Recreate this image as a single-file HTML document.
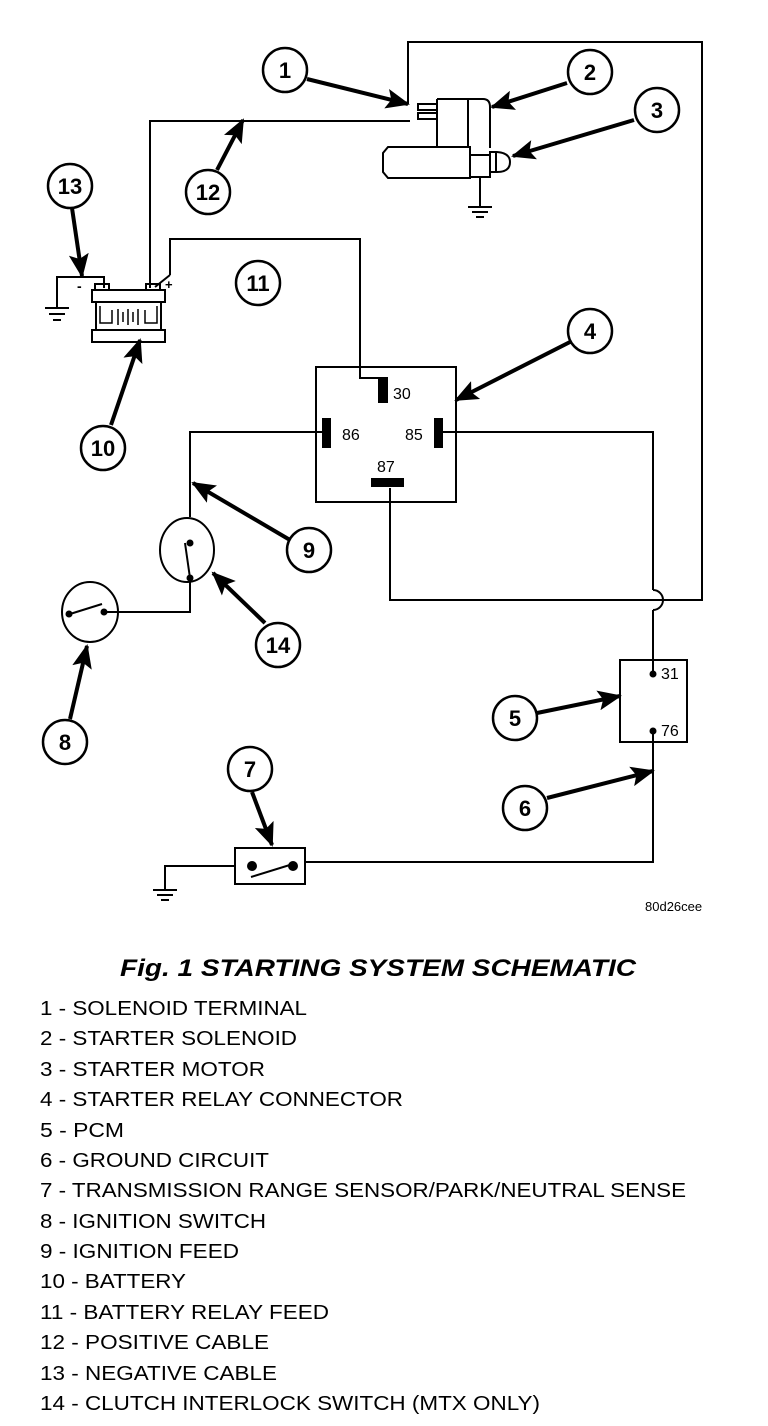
<!DOCTYPE html>
<html><head><meta charset="utf-8"><style>
html,body{margin:0;padding:0;background:#fff}
svg{display:block}
text{font-family:"Liberation Sans",sans-serif;fill:#000}
</style></head><body>
<svg width="768" height="1426" viewBox="0 0 768 1426" xmlns="http://www.w3.org/2000/svg">
<defs>
<marker id="ah" markerWidth="6" markerHeight="5" refX="5.5" refY="2.5" orient="auto" markerUnits="strokeWidth">
<path d="M0,0 L6,2.5 L0,5 L1.2,2.5 z" fill="#000"/>
</marker>
</defs>
<g fill="none" stroke="#000" stroke-width="2">
<polyline points="408,104 408,42 702,42 702,600 390,600 390,488"/>
<polyline points="440,432 653,432 653,590"/>
<path d="M653,590 A10,10 0 0 1 653,610"/>
<polyline points="653,610 653,672"/>
<rect x="620" y="660" width="67" height="82"/>
<polyline points="653,730 653,862 305,862"/>
<rect x="235" y="848" width="70" height="36"/>
<line x1="251" y1="877" x2="293" y2="864"/>
<polyline points="235,866 165,866 165,890"/>
<line x1="153" y1="890" x2="177" y2="890"/>
<line x1="157" y1="895" x2="173" y2="895"/>
<line x1="161" y1="900" x2="169" y2="900"/>
<rect x="316" y="367" width="140" height="135"/>
<polyline points="170,275 170,239 360,239 360,378 380,378"/>
<polyline points="325,432 190,432 190,517"/>
<ellipse cx="187" cy="550" rx="27" ry="32"/>
<line x1="185" y1="543" x2="190" y2="578"/>
<polyline points="190,582 190,612 105,612"/>
<ellipse cx="90" cy="612" rx="28" ry="30"/>
<line x1="70" y1="614" x2="102" y2="604"/>
<polyline points="150,288 150,121 410,121"/>
<polyline points="104,288 104,277 57,277 57,308"/>
<line x1="45" y1="308" x2="69" y2="308"/>
<line x1="49" y1="314" x2="65" y2="314"/>
<line x1="53" y1="320" x2="61" y2="320"/>
<line x1="155" y1="287" x2="170" y2="275"/>
<rect x="92" y="290" width="73" height="12"/>
<rect x="96" y="302" width="65" height="28"/>
<rect x="92" y="330" width="73" height="12"/>
<rect x="95" y="284" width="14" height="6"/>
<rect x="146" y="284" width="14" height="6"/>
<polyline points="100,306 100,323 112,323 112,310" stroke-width="1.5"/>
<polyline points="157,306 157,323 145,323 145,310" stroke-width="1.5"/>
<line x1="118" y1="309" x2="118" y2="325" stroke-width="1.5"/>
<line x1="123" y1="312" x2="123" y2="322" stroke-width="1.5"/>
<line x1="128" y1="309" x2="128" y2="325" stroke-width="1.5"/>
<line x1="133" y1="312" x2="133" y2="322" stroke-width="1.5"/>
<line x1="138" y1="309" x2="138" y2="325" stroke-width="1.5"/>
<path d="M437,99 L483,99 Q490,99 490,107 L490,148"/>
<line x1="437" y1="99" x2="437" y2="147"/>
<line x1="468" y1="99" x2="468" y2="147"/>
<rect x="418" y="104" width="19" height="6"/>
<rect x="418" y="113" width="19" height="6"/>
<path d="M388,147 L470,147 L470,178 L388,178 L383,172 L383,153 z"/>
<rect x="470" y="155" width="20" height="22"/>
<path d="M490,152 L497,152 Q510,153 510,162 Q510,172 497,172 L490,172 z"/>
<line x1="496" y1="152" x2="496" y2="172"/>
<line x1="480" y1="178" x2="480" y2="207"/>
<line x1="468" y1="207" x2="492" y2="207"/>
<line x1="472" y1="212" x2="488" y2="212"/>
<line x1="476" y1="217" x2="484" y2="217"/>
</g>
<g fill="#000">
<rect x="378" y="377" width="10" height="26"/>
<rect x="322" y="418" width="9" height="30"/>
<rect x="434" y="418" width="9" height="30"/>
<rect x="371" y="478" width="33" height="9"/>
<circle cx="653" cy="674" r="3.5"/>
<circle cx="653" cy="731" r="3.5"/>
<circle cx="252" cy="866" r="5"/>
<circle cx="293" cy="866" r="5"/>
<circle cx="190" cy="543" r="3.5"/>
<circle cx="190" cy="578" r="3.5"/>
<circle cx="69" cy="614" r="3.5"/>
<circle cx="104" cy="612" r="3.5"/>
</g>
<g font-size="16">
<text x="393" y="399">30</text>
<text x="342" y="440">86</text>
<text x="405" y="440">85</text>
<text x="377" y="472">87</text>
<text x="661" y="679">31</text>
<text x="661" y="736">76</text>
</g>
<text x="77" y="291" font-size="14" font-weight="bold">-</text>
<text x="165" y="289" font-size="13" font-weight="bold">+</text>
<text x="645" y="911" font-size="13">80d26cee</text>
<g stroke="#000" stroke-width="4" fill="none" marker-end="url(#ah)">
<line x1="307" y1="79" x2="408" y2="104"/>
<line x1="567" y1="83" x2="492" y2="107"/>
<line x1="634" y1="120" x2="513" y2="156"/>
<line x1="72" y1="208" x2="82" y2="276"/>
<line x1="217" y1="170" x2="243" y2="120"/>
<line x1="111" y1="425" x2="140" y2="340"/>
<line x1="570" y1="342" x2="456" y2="400"/>
<line x1="290" y1="540" x2="193" y2="483"/>
<line x1="265" y1="623" x2="213" y2="573"/>
<line x1="70" y1="719" x2="87" y2="646"/>
<line x1="252" y1="792" x2="272" y2="845"/>
<line x1="537" y1="713" x2="620" y2="696"/>
<line x1="547" y1="798" x2="653" y2="771"/>
</g>
<g stroke="#000" stroke-width="2.5" fill="#fff">
<ellipse cx="285" cy="70" rx="22" ry="22"/>
<ellipse cx="590" cy="72" rx="22" ry="22"/>
<ellipse cx="657" cy="110" rx="22" ry="22"/>
<ellipse cx="70" cy="186" rx="22" ry="22"/>
<ellipse cx="208" cy="192" rx="22" ry="22"/>
<ellipse cx="258" cy="283" rx="22" ry="22"/>
<ellipse cx="590" cy="331" rx="22" ry="22"/>
<ellipse cx="103" cy="448" rx="22" ry="22"/>
<ellipse cx="309" cy="550" rx="22" ry="22"/>
<ellipse cx="278" cy="645" rx="22" ry="22"/>
<ellipse cx="65" cy="742" rx="22" ry="22"/>
<ellipse cx="250" cy="769" rx="22" ry="22"/>
<ellipse cx="515" cy="718" rx="22" ry="22"/>
<ellipse cx="525" cy="808" rx="22" ry="22"/>
</g>
<g font-size="22" font-weight="bold" text-anchor="middle">
<text x="285" y="78">1</text>
<text x="590" y="80">2</text>
<text x="657" y="118">3</text>
<text x="70" y="194">13</text>
<text x="208" y="200">12</text>
<text x="258" y="291">11</text>
<text x="590" y="339">4</text>
<text x="103" y="456">10</text>
<text x="309" y="558">9</text>
<text x="278" y="653">14</text>
<text x="65" y="750">8</text>
<text x="250" y="777">7</text>
<text x="515" y="726">5</text>
<text x="525" y="816">6</text>
</g>
<text x="120" y="976" font-size="24" font-weight="bold" font-style="italic" textLength="516" lengthAdjust="spacingAndGlyphs">Fig. 1 STARTING SYSTEM SCHEMATIC</text>
<g font-size="20">
<text x="40" y="1015" textLength="267" lengthAdjust="spacingAndGlyphs">1 - SOLENOID TERMINAL</text>
<text x="40" y="1045" textLength="257" lengthAdjust="spacingAndGlyphs">2 - STARTER SOLENOID</text>
<text x="40" y="1076" textLength="225" lengthAdjust="spacingAndGlyphs">3 - STARTER MOTOR</text>
<text x="40" y="1106" textLength="363" lengthAdjust="spacingAndGlyphs">4 - STARTER RELAY CONNECTOR</text>
<text x="40" y="1137" textLength="84" lengthAdjust="spacingAndGlyphs">5 - PCM</text>
<text x="40" y="1167" textLength="229" lengthAdjust="spacingAndGlyphs">6 - GROUND CIRCUIT</text>
<text x="40" y="1197" textLength="646" lengthAdjust="spacingAndGlyphs">7 - TRANSMISSION RANGE SENSOR/PARK/NEUTRAL SENSE</text>
<text x="40" y="1228" textLength="226" lengthAdjust="spacingAndGlyphs">8 - IGNITION SWITCH</text>
<text x="40" y="1258" textLength="199" lengthAdjust="spacingAndGlyphs">9 - IGNITION FEED</text>
<text x="40" y="1288" textLength="146" lengthAdjust="spacingAndGlyphs">10 - BATTERY</text>
<text x="40" y="1319" textLength="289" lengthAdjust="spacingAndGlyphs">11 - BATTERY RELAY FEED</text>
<text x="40" y="1349" textLength="229" lengthAdjust="spacingAndGlyphs">12 - POSITIVE CABLE</text>
<text x="40" y="1380" textLength="237" lengthAdjust="spacingAndGlyphs">13 - NEGATIVE CABLE</text>
<text x="40" y="1410" textLength="500" lengthAdjust="spacingAndGlyphs">14 - CLUTCH INTERLOCK SWITCH (MTX ONLY)</text>
</g>
</svg>
</body></html>
